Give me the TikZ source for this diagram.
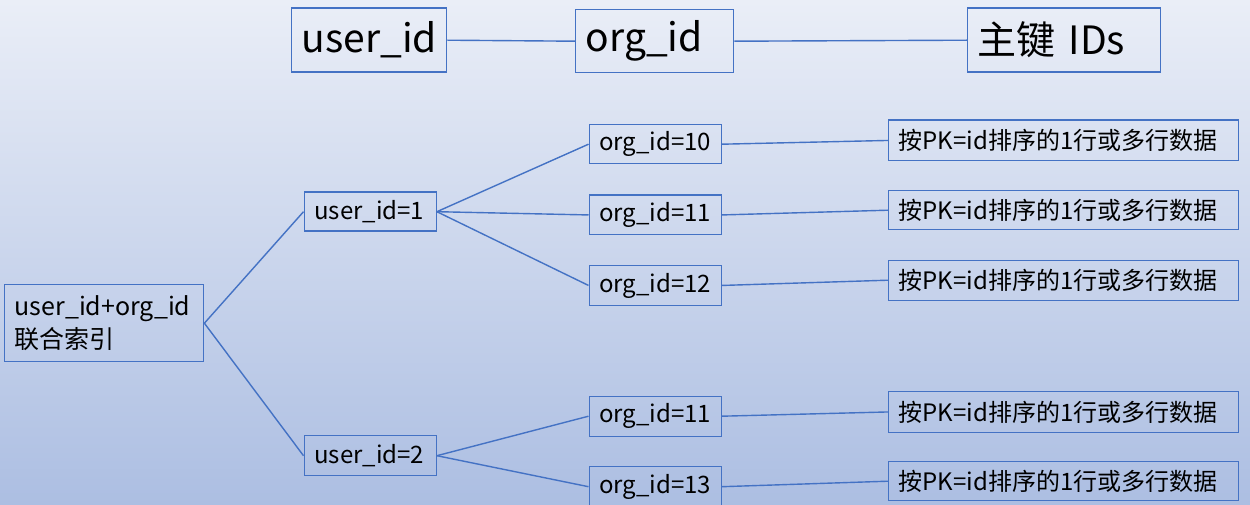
\documentclass[tikz,border=0pt]{standalone}
\usepackage{fontspec}
\setmainfont{Noto Sans CJK SC}
\definecolor{bx}{RGB}{68,114,196}
\definecolor{bgtop}{RGB}{234,238,247}
\definecolor{bgbot}{RGB}{172,190,226}
\tikzset{
  box/.style={draw=bx, line width=1.4pt, anchor=north west, inner xsep=10pt, inner ysep=0pt, align=left, text=black},
  big/.style={box, font=\fontsize{39}{44}\selectfont},
  mid/.style={box, font=\fontsize{24}{28}\selectfont},
  conn/.style={draw=bx, line width=1.4pt},
}
\newcommand{\bx}[7]{\node[#1, text width=#5pt-20pt, minimum height=#6pt] (#2) at (#3,#4) {#7};}
\begin{document}
\begin{tikzpicture}[x=1pt,y=-1pt]
\useasboundingbox (0,0) rectangle (1250,505);
\shade[top color=bgtop, bottom color=bgbot] (0,0) rectangle (1250,505);
\begin{scope}
\clip (0,0) rectangle (1250,505);
\bx{big}{t1}{291}{7.5}{155}{64}{user\_id}
\bx{big}{t2}{575}{9}{158}{63}{org\_id}
\bx{big}{t3}{967}{7.5}{193}{64}{主键 IDs}
\node[box, text width=179pt, minimum height=77pt, font=\fontsize{25}{33}\selectfont] (root) at (4,284) {user\_id+org\_id\\联合索引};
\bx{mid}{u1}{303.5}{191.5}{132}{39}{user\_id=1}
\bx{mid}{u2}{303.5}{435}{132}{40}{user\_id=2}
\bx{mid}{o10}{588.5}{124}{132}{39}{org\_id=10}
\bx{mid}{o11a}{588.5}{194.5}{132}{39.5}{org\_id=11}
\bx{mid}{o12}{588.5}{265}{132}{39.5}{org\_id=12}
\bx{mid}{o11b}{588.5}{395.5}{132}{40}{org\_id=11}
\bx{mid}{o13}{588.5}{466}{132}{40}{org\_id=13}
\bx{mid}{d1}{888}{119.5}{350}{40.5}{按PK=id排序的1行或多行数据}
\bx{mid}{d2}{888}{190}{350}{39}{按PK=id排序的1行或多行数据}
\bx{mid}{d3}{888}{259.5}{350}{40}{按PK=id排序的1行或多行数据}
\bx{mid}{d4}{888}{391}{350}{40.5}{按PK=id排序的1行或多行数据}
\bx{mid}{d5}{888}{461}{350}{39}{按PK=id排序的1行或多行数据}
\draw[conn] (t1.east) -- (t2.west);
\draw[conn] (t2.east) -- (t3.west);
\draw[conn] (root.east) -- (u1.west);
\draw[conn] (root.east) -- (u2.west);
\draw[conn] (u1.east) -- (o10.west);
\draw[conn] (u1.east) -- (o11a.west);
\draw[conn] (u1.east) -- (o12.west);
\draw[conn] (u2.east) -- (o11b.west);
\draw[conn] (u2.east) -- (o13.west);
\draw[conn] (o10.east) -- (d1.west);
\draw[conn] (o11a.east) -- (d2.west);
\draw[conn] (o12.east) -- (d3.west);
\draw[conn] (o11b.east) -- (d4.west);
\draw[conn] (o13.east) -- (d5.west);
\end{scope}
\end{tikzpicture}
\end{document}
